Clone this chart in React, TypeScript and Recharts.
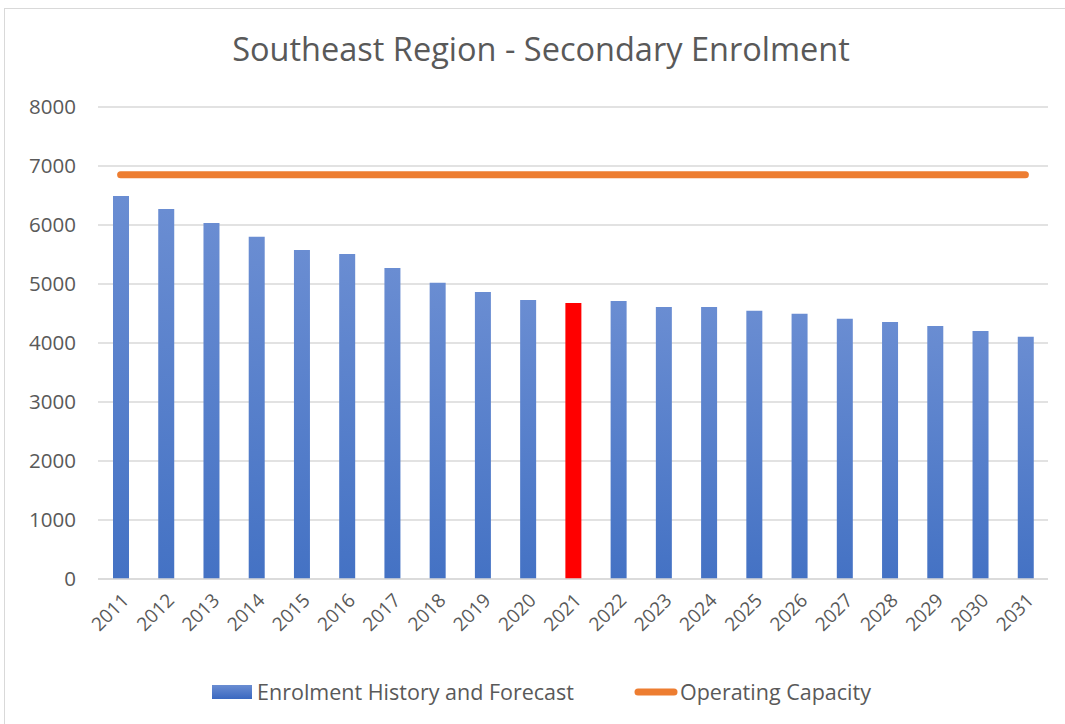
import { ComposedChart, Bar, Line, XAxis, YAxis, CartesianGrid, Legend, Cell } from 'recharts'

const years = ['2011', '2012', '2013', '2014', '2015', '2016', '2017', '2018', '2019', '2020', '2021',
  '2022', '2023', '2024', '2025', '2026', '2027', '2028', '2029', '2030', '2031']
const enrolment = [6490, 6270, 6035, 5800, 5575, 5510, 5270, 5020, 4865, 4730, 4680,
  4710, 4610, 4610, 4545, 4495, 4410, 4355, 4290, 4205, 4105]
const capacity = [6850, 6850, 6850, 6850, 6850, 6850, 6850, 6850, 6850, 6850, 6850,
  6850, 6850, 6850, 6850, 6850, 6850, 6850, 6850, 6850, 6850]
const yTicks = [0, 1000, 2000, 3000, 4000, 5000, 6000, 7000, 8000]
const currentYear = '2021'

const data = years.map((year, i) => ({ year, enrolment: enrolment[i], capacity: capacity[i] }))

const FONT = '"Open Sans", "Noto Sans", sans-serif'
const TEXT = '#595959'

function LegendContent() {
  return (
    <div style={{ display: 'flex', justifyContent: 'center', alignItems: 'center', fontFamily: FONT, fontSize: 21.5, color: TEXT, marginLeft: 30 }}>
      <svg width={40} height={14} style={{ marginRight: 5 }}>
        <defs>
          <linearGradient id="legendGrad" x1="0" y1="0" x2="0" y2="1">
            <stop offset="0%" stopColor="#6a8dd2" />
            <stop offset="100%" stopColor="#3a68c0" />
          </linearGradient>
        </defs>
        <rect x={0} y={0} width={40} height={14} fill="url(#legendGrad)" />
      </svg>
      <span style={{ marginRight: 60 }}>Enrolment History and Forecast</span>
      <svg width={44} height={10} style={{ marginRight: 2 }}>
        <line x1={4} y1={5} x2={40} y2={5} stroke="#ed7d31" strokeWidth={7} strokeLinecap="round" />
      </svg>
      <span>Operating Capacity</span>
    </div>
  )
}

export default function App() {
  return (
    <div style={{ position: 'absolute', left: 4, top: 8, width: 1070, height: 720, border: '1px solid #d9d9d9', background: '#fff' }}>
      <div style={{ position: 'absolute', top: 17, width: 1072, textAlign: 'center', fontFamily: FONT, fontSize: 32.5, color: TEXT }}>
        Southeast Region - Secondary Enrolment
      </div>
      <div style={{ position: 'absolute', top: 0, left: 0 }}>
        <ComposedChart width={1062} height={712} data={data} margin={{ top: 98, right: 19, bottom: 0, left: 0 }}>
          <defs>
            <linearGradient id="barGrad" x1="0" y1="0" x2="0" y2="1">
              <stop offset="0%" stopColor="#6a8dd2" />
              <stop offset="100%" stopColor="#4472c4" />
            </linearGradient>
          </defs>
          <CartesianGrid vertical={false} stroke="#d9d9d9" strokeWidth={1.5} />
          <XAxis
            dataKey="year"
            interval={0}
            angle={-45}
            textAnchor="end"
            height={98}
            tickLine={false}
            axisLine={{ stroke: '#d9d9d9', strokeWidth: 1.5 }}
            tick={{ fontSize: 19, fill: TEXT, fontFamily: FONT }}
            tickMargin={7}
          />
          <YAxis
            domain={[0, 8000]}
            ticks={yTicks}
            width={93}
            axisLine={false}
            tickLine={false}
            tickSize={0}
            tickMargin={22}
            tick={{ fontSize: 20.5, fill: TEXT, fontFamily: FONT }}
          />
          <Legend verticalAlign="bottom" height={44} content={<LegendContent />} />
          <Bar dataKey="enrolment" name="Enrolment History and Forecast" barSize={16} fill="url(#barGrad)" isAnimationActive={false}>
            {data.map((d) => (
              <Cell key={d.year} fill={d.year === currentYear ? '#ff0000' : 'url(#barGrad)'} />
            ))}
          </Bar>
          <Line
            dataKey="capacity"
            name="Operating Capacity"
            stroke="#ed7d31"
            strokeWidth={7}
            strokeLinecap="round"
            dot={false}
            activeDot={false}
            isAnimationActive={false}
          />
        </ComposedChart>
      </div>
    </div>
  )
}
